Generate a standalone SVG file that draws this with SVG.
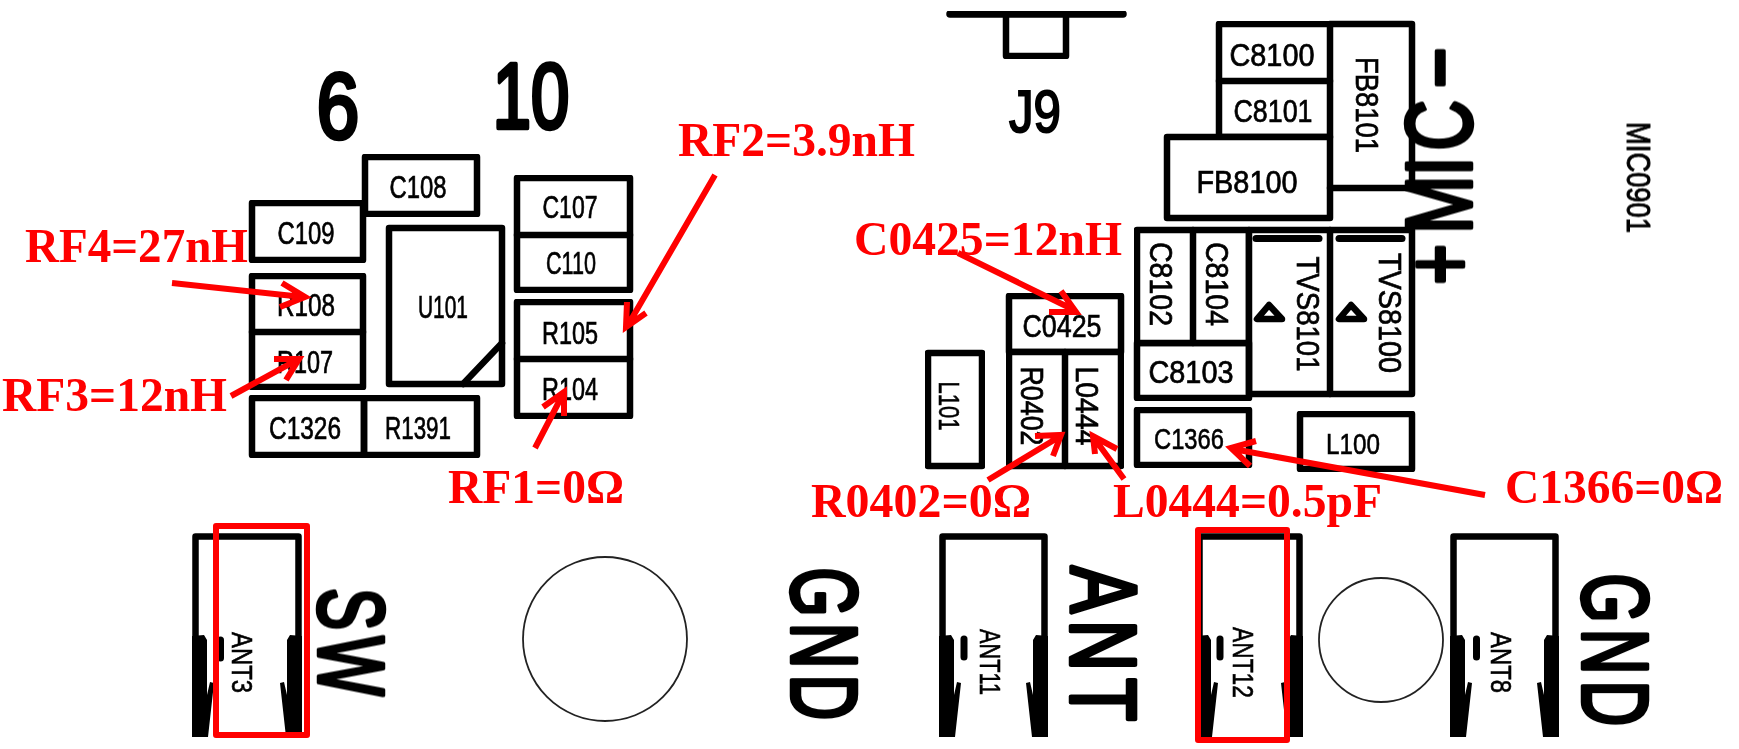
<svg xmlns="http://www.w3.org/2000/svg" xmlns:xlink="http://www.w3.org/1999/xlink" width="1739" height="749" viewBox="0 0 1739 749">
<style>
.soft{filter:url(#soft)}
.box{fill:none;stroke:#000;stroke-width:6.5;stroke-linejoin:round;stroke-linecap:round}
.leg{fill:none;stroke:#000;stroke-width:6.5;stroke-linejoin:round;stroke-linecap:butt}
.pin{fill:#000;stroke:none}
.hole{fill:none;stroke:#222;stroke-width:1.8}
text{font-family:"Liberation Sans",Arial,sans-serif;fill:#000}
.l{font-size:31px;text-anchor:middle;stroke:#000;stroke-width:.7}
.s{font-size:30px;text-anchor:middle;stroke:#000;stroke-width:.6}
.big{font-size:93px;text-anchor:middle;stroke:#000;stroke-width:4.5;stroke-linejoin:round}
.sp{letter-spacing:9px}
.rf{font-family:"Liberation Serif","Times New Roman",serif;font-weight:bold;font-size:48px;fill:#f00}
.arrow{fill:none;stroke:#f00;stroke-width:6;stroke-linejoin:miter}
.mark{fill:none;stroke:#f00;stroke-width:6;stroke-linejoin:round}
</style>
<defs>
<filter id="soft" x="-5%" y="-5%" width="110%" height="110%"><feGaussianBlur stdDeviation="0.6"/></filter>
<g id="padL"><polygon class="pin" points="0,636 12,635 15,640 15,695 18,682 22,683 16,737 0,737"/></g>
<g id="padR"><polygon class="pin" points="0,636 -12,635 -15,640 -15,695 -18,682 -22,683 -16,737 0,737"/></g>
</defs>
<rect width="1739" height="749" fill="#fff"/>

<g id="board-marks" class="soft">
<text class="big" transform="translate(338,138) scale(.82,1)">6</text>
<text class="big" transform="translate(531,128) scale(.74,1)">10</text>
<text class="l" x="1035" y="132" style="font-size:60px;stroke-width:2" textLength="52" lengthAdjust="spacingAndGlyphs">J9</text>
<text class="big" transform="translate(1471,290) rotate(-90) scale(.75,1)" style="text-anchor:start" x="7 75 152 186 269">+MIC−</text>
<text class="s" transform="translate(1627,177.500) rotate(90)" style="font-size:34px;stroke-width:.9" textLength="111" lengthAdjust="spacingAndGlyphs">MIC0901</text>
<text class="big sp" transform="translate(319,645) rotate(90) scale(.68,1)">SW</text>
<text class="big sp" transform="translate(792,647) rotate(90) scale(.68,1)">GND</text>
<text class="big sp" transform="translate(1071,647) rotate(90) scale(.76,1)">ANT</text>
<text class="big sp" transform="translate(1583,653) rotate(90) scale(.68,1)">GND</text>
<circle class="hole" cx="605" cy="639" r="82"/>
<circle class="hole" cx="1381" cy="640" r="62"/>
</g>

<g id="C108" class="soft"><rect class="box" x="365" y="157" width="112" height="57"/><text class="l" x="418" y="198" textLength="57" lengthAdjust="spacingAndGlyphs">C108</text></g>
<g id="C109" class="soft"><rect class="box" x="252" y="203" width="111" height="57"/><text class="l" x="306" y="244" textLength="57" lengthAdjust="spacingAndGlyphs">C109</text></g>
<g id="R108" class="soft"><rect class="box" x="252" y="276" width="111" height="56"/><text class="l" x="306" y="316" textLength="58" lengthAdjust="spacingAndGlyphs">R108</text></g>
<g id="R107" class="soft"><rect class="box" x="252" y="332" width="111" height="55"/><text class="l" x="305" y="373" textLength="56" lengthAdjust="spacingAndGlyphs">R107</text></g>
<g id="C1326" class="soft"><rect class="box" x="252" y="398" width="112" height="57"/><text class="l" x="305" y="439" textLength="72" lengthAdjust="spacingAndGlyphs">C1326</text></g>
<g id="R1391" class="soft"><rect class="box" x="364" y="398" width="113" height="57"/><text class="l" x="418" y="439" textLength="66" lengthAdjust="spacingAndGlyphs">R1391</text></g>
<g id="U101" class="soft"><rect class="box" x="389" y="228" width="113" height="156"/><path class="box" d="M463 384L502 343"/><text class="l" x="443" y="318" textLength="50" lengthAdjust="spacingAndGlyphs">U101</text></g>
<g id="C107" class="soft"><rect class="box" x="517" y="178" width="113" height="57"/><text class="l" x="570" y="218" textLength="55" lengthAdjust="spacingAndGlyphs">C107</text></g>
<g id="C110" class="soft"><rect class="box" x="517" y="235" width="113" height="55"/><text class="l" x="571" y="274" textLength="50" lengthAdjust="spacingAndGlyphs">C110</text></g>
<g id="R105" class="soft"><rect class="box" x="517" y="302" width="113" height="57"/><text class="l" x="570" y="344" textLength="56" lengthAdjust="spacingAndGlyphs">R105</text></g>
<g id="R104" class="soft"><rect class="box" x="517" y="359" width="113" height="57"/><text class="l" x="570" y="400" textLength="56" lengthAdjust="spacingAndGlyphs">R104</text></g>

<g id="J9" class="soft"><path class="box" d="M950 14H1123" style="stroke-width:7.5"/><path class="box" d="M1006 16V56H1066V16"/></g>

<g id="C8100" class="soft"><rect class="box" x="1219" y="24" width="111" height="57"/><text class="l" x="1272" y="66" textLength="85" lengthAdjust="spacingAndGlyphs">C8100</text></g>
<g id="C8101" class="soft"><rect class="box" x="1219" y="81" width="111" height="56"/><text class="l" x="1273" y="122" textLength="79" lengthAdjust="spacingAndGlyphs">C8101</text></g>
<g id="FB8101" class="soft"><path class="box" d="M1330 24H1412V188H1330"/><text class="l" transform="translate(1356,105) rotate(90)" textLength="96" lengthAdjust="spacingAndGlyphs">FB8101</text></g>
<g id="FB8100" class="soft"><rect class="box" x="1167" y="137" width="163" height="81"/><text class="l" x="1247" y="193" textLength="101" lengthAdjust="spacingAndGlyphs">FB8100</text></g>
<g id="C8102" class="soft"><rect class="box" x="1137" y="230" width="56" height="113"/><text class="l" transform="translate(1150,284) rotate(90)" textLength="84" lengthAdjust="spacingAndGlyphs">C8102</text></g>
<g id="C8104" class="soft"><rect class="box" x="1193" y="230" width="56" height="113"/><text class="l" transform="translate(1206,284) rotate(90)" textLength="84" lengthAdjust="spacingAndGlyphs">C8104</text></g>
<g id="C8103" class="soft"><rect class="box" x="1137" y="343" width="112" height="55"/><text class="l" x="1191" y="383" textLength="85" lengthAdjust="spacingAndGlyphs">C8103</text></g>
<g id="TVS8101" class="soft"><rect class="box" x="1249" y="230" width="81" height="164"/><path class="box" d="M1256 238.500H1319" style="stroke-width:7"/><polygon class="box" points="1269,305 1257,319 1282,319"/><text class="l" transform="translate(1297,314) rotate(90)" textLength="115" lengthAdjust="spacingAndGlyphs">TVS8101</text></g>
<g id="TVS8100" class="soft"><path class="box" d="M1330 230H1412V394H1330"/><path class="box" d="M1339 238.500H1402" style="stroke-width:7"/><polygon class="box" points="1351,305 1339,319 1364,319"/><text class="l" transform="translate(1379,313) rotate(90)" textLength="120" lengthAdjust="spacingAndGlyphs">TVS8100</text></g>
<g id="C0425" class="soft"><rect class="box" x="1009" y="296" width="112" height="56"/><text class="l" x="1062" y="337" textLength="79" lengthAdjust="spacingAndGlyphs">C0425</text></g>
<g id="R0402" class="soft"><rect class="box" x="1009" y="352" width="56" height="114"/><text class="l" transform="translate(1021,406) rotate(90)" textLength="79" lengthAdjust="spacingAndGlyphs">R0402</text></g>
<g id="L0444" class="soft"><rect class="box" x="1065" y="352" width="56" height="114"/><text class="l" transform="translate(1076,406) rotate(90)" textLength="79" lengthAdjust="spacingAndGlyphs">L0444</text></g>
<g id="L101" class="soft"><rect class="box" x="928" y="353" width="54" height="113"/><text class="s" transform="translate(939,406) rotate(90)" textLength="49" lengthAdjust="spacingAndGlyphs">L101</text></g>
<g id="C1366" class="soft"><rect class="box" x="1137" y="410" width="112" height="55"/><text class="s" x="1189" y="449" textLength="70" lengthAdjust="spacingAndGlyphs">C1366</text></g>
<g id="L100" class="soft"><rect class="box" x="1300" y="414" width="112" height="55"/><text class="s" x="1353" y="454" textLength="54" lengthAdjust="spacingAndGlyphs">L100</text></g>

<g id="ANT3" class="soft"><path class="leg" d="M195.500 737V536.500H298.500V737"/><use xlink:href="#padL" href="#padL" x="192"/><use xlink:href="#padR" href="#padR" x="302"/><path class="box" d="M220.500 640V658" style="stroke-width:7"/><text class="s" transform="translate(232,662.500) rotate(90)" textLength="61" lengthAdjust="spacingAndGlyphs">ANT3</text></g>
<g id="ANT11" class="soft"><path class="leg" d="M942.500 737V536.500H1044.500V737"/><use xlink:href="#padL" href="#padL" x="939"/><use xlink:href="#padR" href="#padR" x="1048"/><path class="box" d="M964 639V657" style="stroke-width:7"/><text class="s" transform="translate(980,662) rotate(90)" textLength="66" lengthAdjust="spacingAndGlyphs">ANT11</text></g>
<g id="ANT12" class="soft"><path class="leg" d="M1199.500 737V536.500H1299.500V737"/><use xlink:href="#padL" href="#padL" x="1196"/><use xlink:href="#padR" href="#padR" x="1303"/><path class="box" d="M1220 639V657" style="stroke-width:7"/><text class="s" transform="translate(1233,662.500) rotate(90)" textLength="71" lengthAdjust="spacingAndGlyphs">ANT12</text></g>
<g id="ANT8" class="soft"><path class="leg" d="M1453.500 737V536.500H1555.500V737"/><use xlink:href="#padL" href="#padL" x="1450"/><use xlink:href="#padR" href="#padR" x="1559"/><path class="box" d="M1476.500 639V657" style="stroke-width:7"/><text class="s" transform="translate(1491,662.500) rotate(90)" textLength="61" lengthAdjust="spacingAndGlyphs">ANT8</text></g>

<g id="connectors">
<path class="arrow" d="M172 283L303 297M282 283L305 297L280 307"/>
<path class="arrow" d="M231 396L297 360M274 359L299 359L286 380"/>
<path class="arrow" d="M535 448L563 394M543 407L564 392L564 416"/>
<path class="arrow" d="M715 175L628 325M627 302L626 327L646 313"/>
<path class="arrow" d="M958 253L1074 310M1061 291L1076 312L1049 312"/>
<path class="arrow" d="M988 480L1059 437M1035 436L1061 435L1053 456"/>
<path class="arrow" d="M1124 479L1094 438M1095 454L1093 436L1117 449"/>
<path class="arrow" d="M1485 495L1233 449M1256 441L1231 448L1250 466"/>
</g>

<g id="annotations">
<rect class="mark" x="216" y="526" width="91" height="209"/>
<rect class="mark" x="1198" y="530" width="89" height="210"/>
<text class="rf" x="25" y="262" textLength="223" lengthAdjust="spacingAndGlyphs">RF4=27nH</text>
<text class="rf" x="2" y="411" textLength="225" lengthAdjust="spacingAndGlyphs">RF3=12nH</text>
<text class="rf" x="448" y="503" textLength="176" lengthAdjust="spacingAndGlyphs">RF1=0Ω</text>
<text class="rf" x="678" y="156" textLength="237" lengthAdjust="spacingAndGlyphs">RF2=3.9nH</text>
<text class="rf" x="854" y="255" textLength="268" lengthAdjust="spacingAndGlyphs">C0425=12nH</text>
<text class="rf" x="811" y="517" textLength="220" lengthAdjust="spacingAndGlyphs">R0402=0Ω</text>
<text class="rf" x="1113" y="517" textLength="269" lengthAdjust="spacingAndGlyphs">L0444=0.5pF</text>
<text class="rf" x="1505" y="503" textLength="218" lengthAdjust="spacingAndGlyphs">C1366=0Ω</text>
</g>
</svg>
